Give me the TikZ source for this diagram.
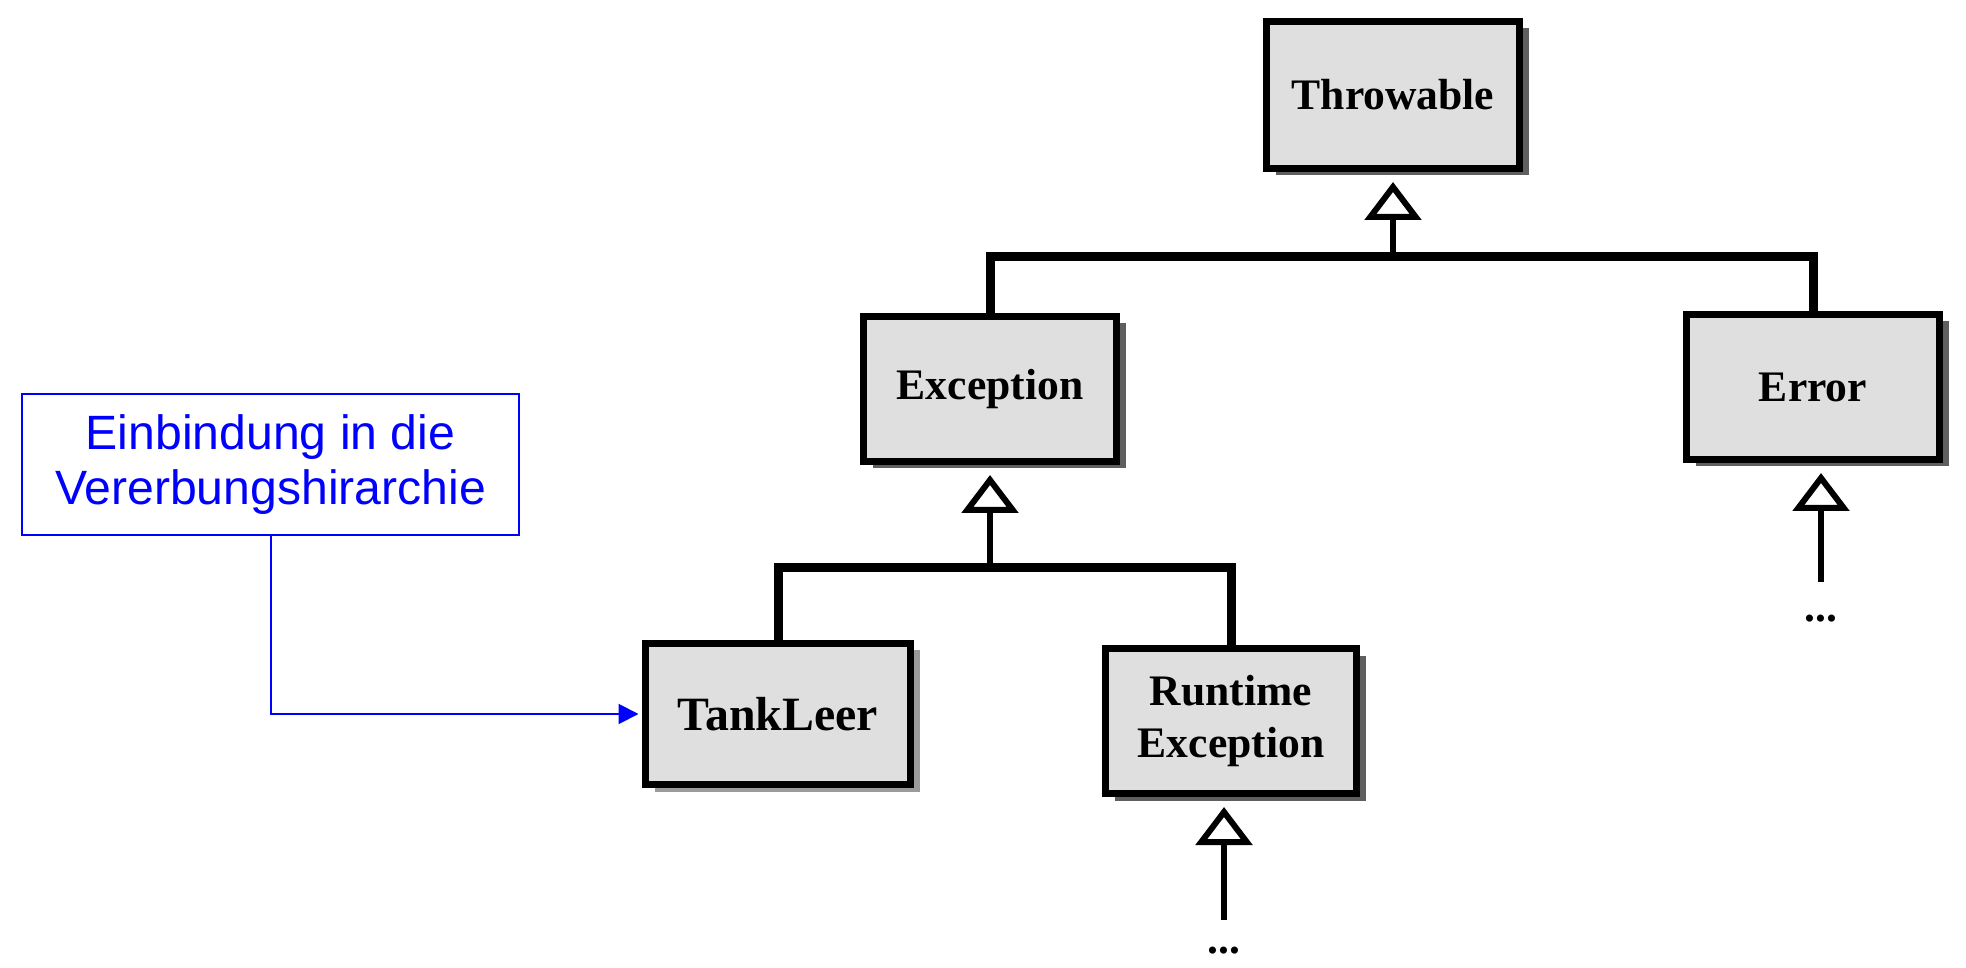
\documentclass[tikz,border=0pt]{standalone}
\usepackage{fontspec}
\setmainfont{Liberation Serif}
\newfontfamily\notefont{Liberation Sans}
\usetikzlibrary{arrows.meta,shadows}
\definecolor{boxgray}{HTML}{DFDFDF}
\definecolor{shadegray}{HTML}{5F5F5F}
\definecolor{lightshade}{HTML}{9A9A9A}
\tikzset{
  classbox/.style={draw=black, line width=0.07cm, fill=boxgray, align=center,
    minimum width=2.53cm, minimum height=1.45cm,
    font=\bfseries\fontsize{12.4}{15}\selectfont,
    drop shadow={shadow xshift=0.09cm, shadow yshift=-0.07cm, fill=#1, opacity=1}},
  classbox/.default=shadegray,
  bus/.style={line width=0.09cm, line join=miter},
  inherit/.style={line width=0.06cm, -{Triangle[open, length=0.38cm, width=0.56cm]}, shorten >=0.1cm},
  dots/.style={inner sep=0pt, font=\bfseries\fontsize{12.4}{15}\selectfont},
  notebox/.style={draw=blue, line width=0.02cm, text=blue, align=center,
    minimum width=4.97cm, minimum height=1.41cm,
    font=\notefont\fontsize{13.7}{15.6}\selectfont},
  noteline/.style={blue, line width=0.02cm, -{Triangle[length=0.2cm, width=0.2cm]}, shorten >=0.035cm}
}
\begin{document}
\begin{tikzpicture}
\useasboundingbox (0,0) rectangle (19.66,-9.68);
\node[classbox, minimum height=1.47cm] (throwable) at (13.93,-0.95) {Throwable};
\node[classbox] (exception) at (9.90,-3.89) {Exception};
\node[classbox] (error) at (18.13,-3.87) {Error};
\node[classbox=lightshade, minimum width=2.65cm, minimum height=1.41cm,
  font=\bfseries\fontsize{13.6}{16}\selectfont] (tankleer) at (7.78,-7.14) {TankLeer};
\node[classbox, minimum width=2.51cm] (runtime) at (12.31,-7.21) {Runtime\\Exception};
\node[dots, anchor=base] (errdots) at (18.21,-6.22) {...};
\node[dots, anchor=base] (rtdots) at (12.24,-9.53) {...};
\node[notebox] (note) at (2.705,-4.645) {Einbindung in die\\Vererbungshirarchie};
\coordinate (topjoint) at (13.93,-2.57);
\coordinate (lowjoint) at (9.90,-5.68);
\draw[bus] (exception.north) |- (topjoint) -| (error.north);
\draw[inherit] (topjoint) -- (throwable.south);
\draw[bus] (tankleer.north) |- (lowjoint) -| (runtime.north);
\draw[inherit] (lowjoint) -- (exception.south);
\draw[inherit, shorten <=0.33cm] (errdots.north) -- (errdots.north |- error.south);
\draw[inherit, shorten <=0.26cm] (rtdots.north) -- (rtdots.north |- runtime.south);
\draw[noteline] (note.south) |- (tankleer.west);
\end{tikzpicture}
\end{document}
